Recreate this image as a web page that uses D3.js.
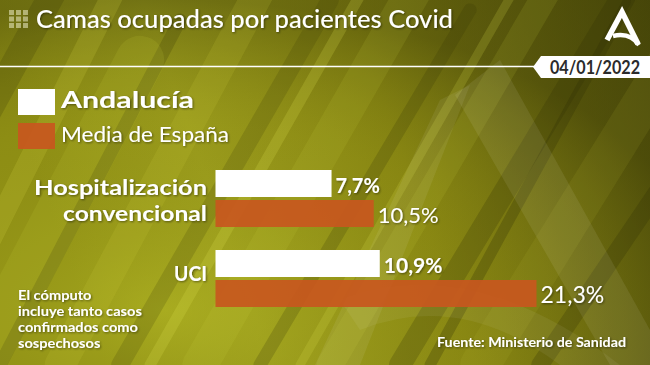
<!DOCTYPE html>
<html><head><meta charset="utf-8">
<script src="https://cdn.jsdelivr.net/npm/d3@7"></script>
<style>
html,body{margin:0;padding:0;background:#7d7c12;}
svg{display:block;}
text{font-family:Lato,"Noto Sans",sans-serif;}
</style></head>
<body>
<script>
const title = "Camas ocupadas por pacientes Covid";
const dateLabel = "04/01/2022";
const seriesNames = ["Andalucía", "Media de España"];
const categories = [["Hospitalización", "convencional"], ["UCI"]];
const andalucia = [7.7, 10.9];
const espana = [10.5, 21.3];
const note = ["El cómputo", "incluye tanto casos", "confirmados como", "sospechosos"];
const source = "Fuente: Ministerio de Sanidad";

const W = 650, H = 365;
const fmt = v => d3.format(".1f")(v).replace(".", ",") + "%";
const svg = d3.select("body").append("svg").attr("width", W).attr("height", H);
const defs = svg.append("defs");

// background
const bg = defs.append("linearGradient").attr("id","bg").attr("x1","0").attr("y1","0.2").attr("x2","1").attr("y2","0");
[["0%","#8e8e14"],["25%","#9a9b1c"],["55%","#888612"],["80%","#6a680e"],["100%","#52510a"]]
  .forEach(([o,c])=>bg.append("stop").attr("offset",o).attr("stop-color",c));
svg.append("rect").attr("width",W).attr("height",H).attr("fill","url(#bg)");
const vg = defs.append("radialGradient").attr("id","vg").attr("cx","0.25").attr("cy","0.85").attr("r","0.85");
vg.append("stop").attr("offset","0%").attr("stop-color","#c2c82a").attr("stop-opacity",0.45);
vg.append("stop").attr("offset","60%").attr("stop-color","#8a8a14").attr("stop-opacity",0.1);
vg.append("stop").attr("offset","100%").attr("stop-color","#333306").attr("stop-opacity",0.38);
svg.append("rect").attr("width",W).attr("height",H).attr("fill","url(#vg)");

// decorative streaks
const streaks = [
  [-40,300,120,-20,10,"#d6da40",0.18],[0,365,180,20,6,"#2e2e04",0.2],[60,365,260,-10,14,"#cdd23a",0.15],
  [120,365,330,0,8,"#3a3a06",0.18],[200,365,420,-20,16,"#cfd440",0.12],[260,365,470,10,6,"#303004",0.2],
  [330,365,560,-30,12,"#d0d440",0.12],[400,365,620,0,10,"#2f2f04",0.22],[480,365,700,10,18,"#c4c838",0.1],
  [540,365,760,40,8,"#2a2a04",0.22],[-60,200,60,-20,12,"#2d2d04",0.18],[-20,365,140,60,22,"#c9ce36",0.14],
  [150,365,380,-40,5,"#e0e450",0.2],[300,365,520,-20,4,"#e0e450",0.18],[430,365,640,-20,5,"#2c2c04",0.25]
];
svg.append("g").selectAll("line").data(streaks).join("line")
  .attr("x1",d=>d[0]).attr("y1",d=>d[1]).attr("x2",d=>d[2]).attr("y2",d=>d[3])
  .attr("stroke",d=>d[5]).attr("stroke-opacity",d=>d[6]).attr("stroke-width",d=>d[4]*2.2)
  .attr("stroke-linecap","round");

// faint big A watermark
svg.append("path").attr("d","M455,95 L500,60 L650,330 L650,365 L610,365 Z").attr("fill","#fff").attr("opacity",0.08);
svg.append("path").attr("d","M440,100 L470,85 L360,365 L315,365 Z").attr("fill","#fff").attr("opacity",0.07);
svg.append("path").attr("d","M340,300 Q470,250 620,365 L560,365 Q460,290 360,330 Z").attr("fill","#fff").attr("opacity",0.06);

// shadow filter
const f = defs.append("filter").attr("id","sh").attr("x","-10%").attr("y","-20%").attr("width","130%").attr("height","150%");
f.append("feDropShadow").attr("dx",1).attr("dy",1).attr("stdDeviation",1.2).attr("flood-color","#000").attr("flood-opacity",0.45);

// title icon
const icon = svg.append("g").attr("opacity",0.55);
d3.range(9).forEach(i=>icon.append("rect").attr("x",9+(i%3)*7).attr("y",10+Math.floor(i/3)*6.5).attr("width",5).attr("height",5).attr("fill","#eeeec8"));
svg.append("text").attr("x",36).attr("y",28).attr("fill","#fff").attr("font-size",24).attr("font-weight",500)
  .attr("filter","url(#sh)").attr("textLength",417).attr("lengthAdjust","spacingAndGlyphs").text(title);

// logo
const logo = svg.append("g").attr("fill","none").attr("stroke","#fff").attr("stroke-linejoin","miter");
logo.append("path").attr("d","M607,40 L622,12 L638,44").attr("stroke-width",5.5);
logo.append("path").attr("d","M613,36 Q630,32 639,45").attr("stroke-width",4.5);

// date rule + tag
svg.append("line").attr("x1",0).attr("x2",535).attr("y1",66.5).attr("y2",66.5).attr("stroke","#fff").attr("stroke-width",1.5);
svg.append("path").attr("d","M533,67 L541,56 L650,56 L650,78 L541,78 Z").attr("fill","#fff");
svg.append("text").attr("x",595).attr("y",74).attr("text-anchor","middle").attr("fill","#2b2b2b")
  .attr("font-size",18).attr("font-weight",700).attr("textLength",90).attr("lengthAdjust","spacingAndGlyphs").text(dateLabel);

// legend
const colors = ["#ffffff", "#c8571e"];
const leg = svg.append("g");
seriesNames.forEach((n,i)=>{
  leg.append("rect").attr("x",18).attr("y",89+i*34).attr("width",37).attr("height",26).attr("fill",colors[i]).attr("opacity",i?0.92:1);
  leg.append("text").attr("x",61).attr("y",108+i*34).attr("fill","#fff")
    .attr("font-size",i?21:23).attr("font-weight",i?400:700).attr("filter","url(#sh)")
    .attr("textLength",i?168:133).attr("lengthAdjust","spacingAndGlyphs").text(n);
});

// scales
const x = d3.scaleLinear().domain([0, d3.max(espana)]).range([0, 321]);
const x0 = 215.5;
const yBand = d3.scaleBand().domain(d3.range(categories.length)).range([170, 330]).paddingInner(0.0).paddingOuter(0);
const barH = 27, gap = 3;
const catW = {"Hospitalización":173, "convencional":144, "UCI":33};
const valSize = [[20,22],[21,23]];

const g = svg.append("g");
categories.forEach((lines,i)=>{
  const top = yBand(i);
  g.append("rect").attr("x",x0).attr("y",top).attr("width",x(andalucia[i])).attr("height",barH).attr("fill",colors[0]);
  g.append("rect").attr("x",x0).attr("y",top+barH+gap).attr("width",x(espana[i])).attr("height",barH).attr("fill",colors[1]).attr("opacity",0.92);
  g.append("text").attr("x",x0+x(andalucia[i])+4).attr("y",top+23).attr("fill","#fff").attr("font-size",valSize[i][0]).attr("font-weight",700)
    .attr("filter","url(#sh)").text(fmt(andalucia[i]));
  g.append("text").attr("x",x0+x(espana[i])+4).attr("y",top+barH+gap+23).attr("fill","#fff").attr("font-size",valSize[i][1]).attr("font-weight",400)
    .attr("filter","url(#sh)").text(fmt(espana[i]));
  const baseY = lines.length===2 ? top+25 : top+31;
  lines.forEach((l,j)=>{
    g.append("text").attr("x",207).attr("y",baseY+j*26).attr("text-anchor","end").attr("fill","#fff")
      .attr("font-size",21.5).attr("font-weight",700).attr("filter","url(#sh)")
      .attr("textLength",catW[l]).attr("lengthAdjust","spacingAndGlyphs").text(l);
  });
});

// note
note.forEach((l,j)=>{
  const t = svg.append("text").attr("x",18).attr("y",300+j*16).attr("fill","#fff").attr("font-size",13.3)
    .attr("font-weight",700).attr("filter","url(#sh)").text(l);
  const w = t.node().getComputedTextLength();
  t.attr("textLength", w*1.1).attr("lengthAdjust","spacingAndGlyphs");
});
svg.append("text").attr("x",626).attr("y",347).attr("text-anchor","end").attr("fill","#fff").attr("font-size",14)
  .attr("font-weight",700).attr("filter","url(#sh)").attr("textLength",189).attr("lengthAdjust","spacingAndGlyphs").text(source);
</script>
</body></html>
